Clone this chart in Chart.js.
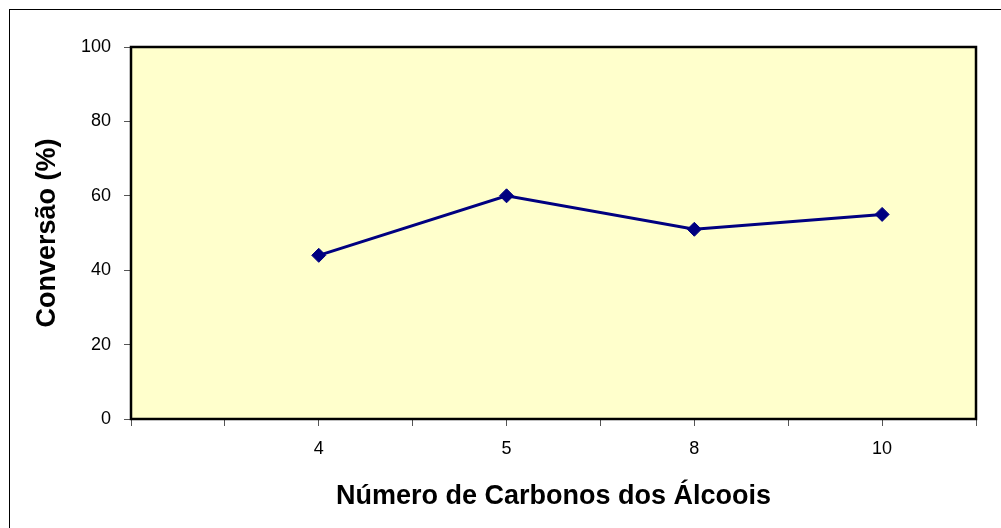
<!DOCTYPE html>
<html>
<head>
<meta charset="utf-8">
<script src="https://cdn.jsdelivr.net/npm/chart.js@4"></script>
<style>
  html, body { margin: 0; padding: 0; background: #ffffff; }
  #wrap { width: 1001px; height: 528px; position: relative; }
</style>
</head>
<body>
<div id="wrap"><canvas id="c" width="1001" height="528"></canvas></div>
<script>
// Alcohol chain length (number of carbons) and conversion (%)
const carbonNumbers = ['4', '5', '8', '10'];
const conversion = [44, 60, 51, 55];
const yTicks = [0, 20, 40, 60, 80, 100];

// Category axis: blank slots between and around the labelled positions
const axisLabels = [''];
const axisData = [null];
carbonNumbers.forEach((c, i) => {
  axisLabels.push('', c);
  axisData.push(null, conversion[i]);
});
axisLabels.push('');
axisData.push(null);

const frame = {
  id: 'frame',
  beforeDraw(chart) {
    const { ctx, chartArea: a } = chart;
    ctx.save();
    ctx.fillStyle = '#ffffff';
    ctx.fillRect(0, 0, chart.width, chart.height);
    ctx.strokeStyle = '#000000';
    ctx.lineWidth = 1;
    ctx.strokeRect(9.5, 9.5, 1200, 700);
    ctx.fillStyle = '#FFFFCC';
    ctx.fillRect(a.left, a.top, a.right - a.left, a.bottom - a.top);
    ctx.restore();
  },
  afterDatasetsDraw(chart) {
    const { ctx, chartArea: a } = chart;
    ctx.save();
    ctx.strokeStyle = '#000000';
    ctx.lineWidth = 2.5;
    ctx.strokeRect(a.left, a.top, a.right - a.left, a.bottom - a.top);
    ctx.restore();
  }
};

new Chart(document.getElementById('c'), {
  type: 'line',
  data: {
    labels: axisLabels,
    datasets: [{
      data: axisData,
      spanGaps: true,
      borderColor: '#000080',
      backgroundColor: '#000080',
      borderWidth: 3,
      pointStyle: 'rectRot',
      pointRadius: 7,
      pointHoverRadius: 7,
      pointBorderWidth: 1,
      tension: 0
    }]
  },
  options: {
    responsive: false,
    animation: false,
    events: [],
    layout: { padding: { top: 47, right: 25, left: 0, bottom: 0 } },
    plugins: { legend: { display: false }, tooltip: { enabled: false } },
    scales: {
      x: {
        type: 'category',
        offset: false,
        afterFit(s) { s.height = 109; },
        grid: { display: true, drawOnChartArea: false, drawTicks: true, tickLength: 7, color: '#555555', lineWidth: 1 },
        border: { display: false },
        ticks: {
          autoSkip: false, maxRotation: 0, padding: 12,
          color: '#000000',
          font: { family: 'Liberation Sans, Arial, sans-serif', size: 18 }
        },
        title: {
          display: true,
          text: 'Número de Carbonos dos Álcoois',
          color: '#000000',
          font: { family: 'Liberation Sans, Arial, sans-serif', size: 27, weight: 'bold' },
          padding: { top: 0, bottom: 15 }
        }
      },
      y: {
        min: 0, max: 100,
        afterFit(s) { s.width = 131; },
        afterBuildTicks(s) { s.ticks = yTicks.map(v => ({ value: v })); },
        grid: { display: true, drawOnChartArea: false, drawTicks: true, tickLength: 7, color: '#555555', lineWidth: 1 },
        border: { display: false },
        ticks: {
          padding: 13,
          color: '#000000',
          font: { family: 'Liberation Sans, Arial, sans-serif', size: 18 }
        },
        title: {
          display: true,
          text: 'Conversão (%)',
          color: '#000000',
          font: { family: 'Liberation Sans, Arial, sans-serif', size: 27, weight: 'bold' },
          padding: { top: 31, bottom: 0 }
        }
      }
    }
  },
  plugins: [frame]
});
</script>
</body>
</html>
